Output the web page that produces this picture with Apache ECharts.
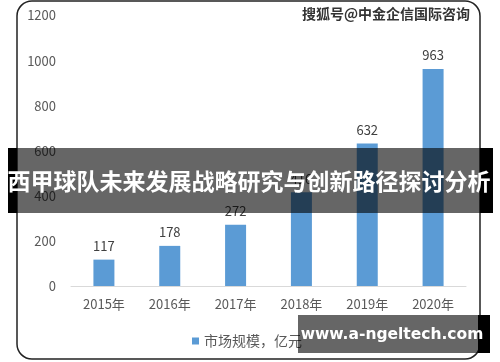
<!DOCTYPE html>
<html><head><meta charset="utf-8">
<script src="https://cdn.jsdelivr.net/npm/echarts@6/dist/echarts.min.js"></script>
<style>html,body{margin:0;padding:0;background:#fff}#c{width:500px;height:362px}</style>
</head><body><div id="c"></div>
<script>
var categories = ['2015年','2016年','2017年','2018年','2019年','2020年'];
var marketSize = [117, 178, 272, 416, 632, 963];
var seriesName = '市场规模，亿元';
var bannerText = '西甲球队未来发展战略研究与创新路径探讨分析';
var watermarkText = '搜狐号@中金企信国际咨询';
var siteText = 'www.a-ngeltech.com';

var chart = echarts.init(document.getElementById('c'), null, {renderer:'canvas'});
var cjk = '"Noto Sans CJK SC", "Noto Sans", sans-serif';
chart.setOption({
  animation: false,
  textStyle: {fontFamily: cjk},
  grid: {left: 71, right: 34, top: 15.5, bottom: 76},
  legend: {
    data: [seriesName], left: 187, top: 329, itemWidth: 7, itemHeight: 7, itemGap: 5,
    icon: 'rect', textStyle: {color: '#595959', fontSize: 14, fontFamily: cjk}
  },
  xAxis: {
    type: 'category', data: categories,
    axisLine: {lineStyle: {color: '#d9d9d9', width: 1}},
    axisTick: {show: false},
    axisLabel: {color: '#595959', fontSize: 13, margin: 12, fontFamily: cjk}
  },
  yAxis: {
    type: 'value', min: 0, max: 1200, interval: 200,
    axisLine: {show: false}, axisTick: {show: false},
    splitLine: {show: false},
    axisLabel: {color: '#595959', fontSize: 13, margin: 15, fontFamily: cjk, formatter: function (v) { return String(v); }}
  },
  series: [{
    name: seriesName, type: 'bar', data: marketSize, barWidth: 21,
    itemStyle: {color: '#5b9bd5'},
    label: {show: true, position: 'top', distance: 7, color: '#404040', fontSize: 13, fontFamily: cjk}
  }],
  graphic: [
    {type: 'rect', z: 10, shape: {x: 17, y: 1, width: 463, height: 358, r: 15}, style: {fill: 'none', stroke: '#222', lineWidth: 1.5}},
    {type: 'text', z: 20, style: {x: 470, y: 14, text: watermarkText, align: 'right', verticalAlign: 'middle', fill: '#333', stroke: '#fff', lineWidth: 1, font: 'bold 14px ' + cjk}},
    {type: 'rect', z: 30, shape: {x: 8, y: 148, width: 9, height: 65}, style: {fill: '#000'}},
    {type: 'rect', z: 30, shape: {x: 480, y: 148, width: 13, height: 65}, style: {fill: '#000'}},
    {type: 'rect', z: 33, shape: {x: 17, y: 148, width: 463, height: 65}, style: {fill: 'rgba(0,0,0,0.6)'}},
    {type: 'text', z: 40, style: {x: 249, y: 181, text: bannerText, align: 'center', verticalAlign: 'middle', fill: '#fff', font: 'bold 23px ' + cjk}},
    {type: 'rect', z: 30, shape: {x: 478, y: 315, width: 12, height: 38}, style: {fill: '#000'}},
    {type: 'rect', z: 33, shape: {x: 298, y: 315, width: 180, height: 38}, style: {fill: 'rgba(0,0,0,0.6)'}},
    {type: 'text', z: 40, style: {x: 392, y: 335, text: siteText, align: 'center', verticalAlign: 'middle', fill: '#fff', font: 'bold 15.5px "DejaVu Sans", sans-serif'}}
  ]
});
</script></body></html>
